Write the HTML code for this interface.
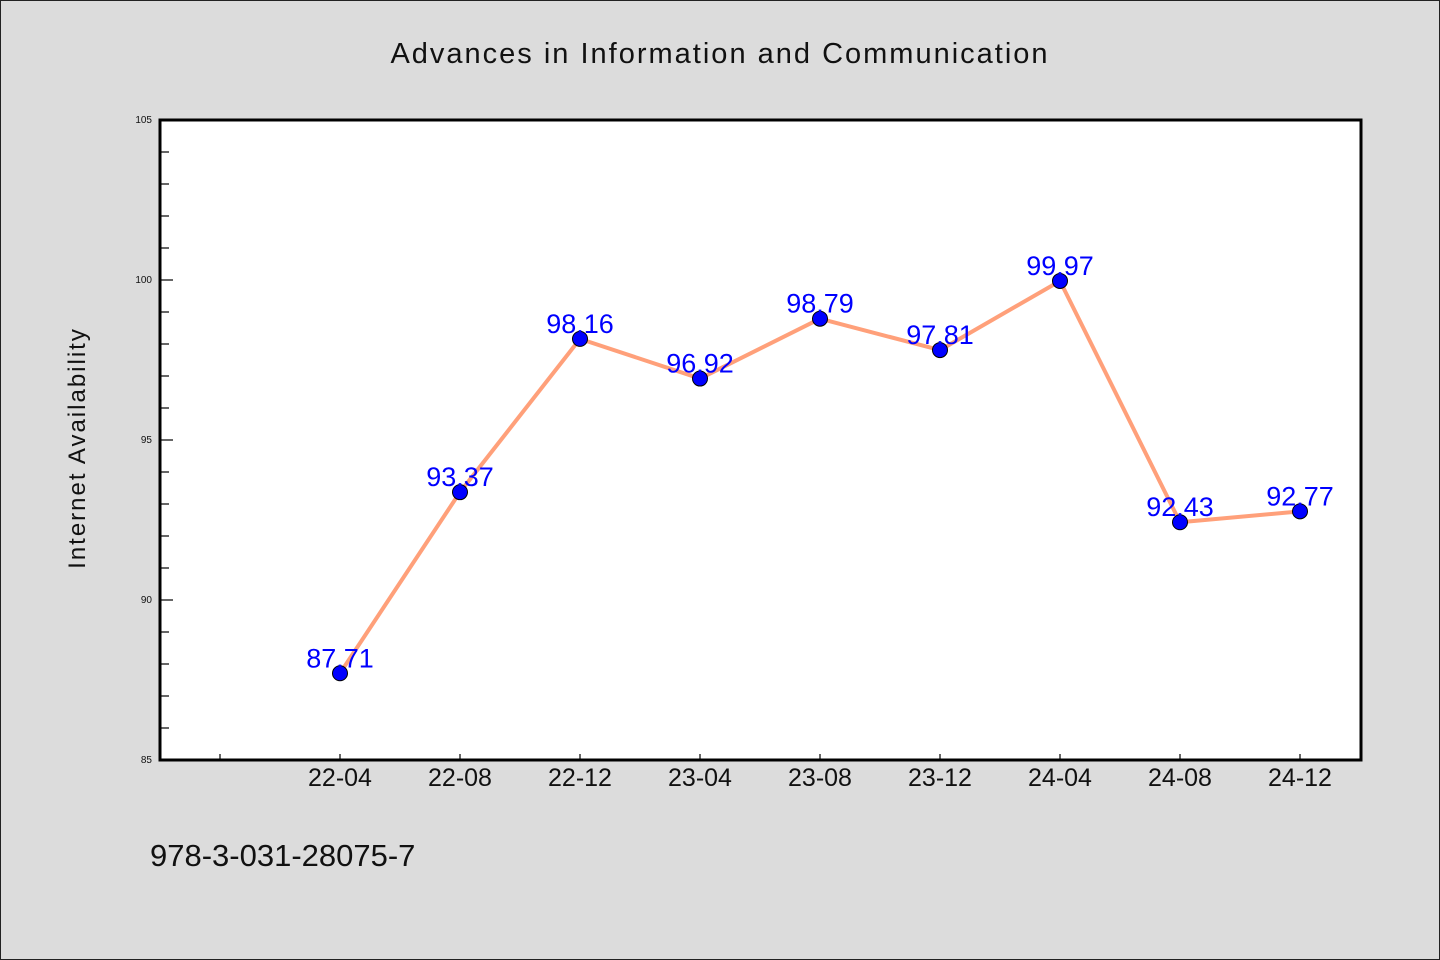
<!DOCTYPE html>
<html><head><meta charset="utf-8"><style>
html,body{margin:0;padding:0;}
body{width:1440px;height:960px;background:#dcdcdc;overflow:hidden;}
svg{display:block;}
text{font-family:"WenQuanYi Zen Hei","Liberation Sans",sans-serif;}
</style></head><body>
<svg id="chart" width="1440" height="960">
<rect x="0.5" y="0.5" width="1439" height="959" fill="#dcdcdc" stroke="#222"/>
<text x="720" y="63" text-anchor="middle" font-size="29" fill="#111" letter-spacing="2">Advances in Information and Communication</text>
<rect x="160" y="120" width="1201" height="640" fill="#fff"/>
<text transform="translate(85,448) rotate(-90)" text-anchor="middle" font-size="24" fill="#111" letter-spacing="2">Internet Availability</text>
<text x="150" y="866" font-size="31" fill="#111">978-3-031-28075-7</text>
<g id="axes"></g>
<g id="series"></g>
<rect x="160" y="120" width="1201" height="640" fill="none" stroke="#000" stroke-width="3"/>
</svg>
<script>
const categories=["22-04","22-08","22-12","23-04","23-08","23-12","24-04","24-08","24-12"];
const values=[87.71,93.37,98.16,96.92,98.79,97.81,99.97,92.43,92.77];
const yTicks=[85,90,95,100,105];
const NS="http://www.w3.org/2000/svg";
const L=160,R=1361,T=120,B=760,yMin=85,yMax=105;
const y=v=>B-(v-yMin)/(yMax-yMin)*(B-T);
const x=i=>340+i*120;
function mk(tag,at,parent){const e=document.createElementNS(NS,tag);for(const k in at)e.setAttribute(k,at[k]);parent.appendChild(e);return e;}
const ax=document.getElementById('axes'),sr=document.getElementById('series');
for(let v=yMin;v<=yMax;v++){
  const major=(v%5===0);
  const t=mk('line',{x1:L,x2:L+(major?13:9),y1:y(v),y2:y(v),stroke:'#000','stroke-width':1.2},ax);
  
  
}
yTicks.forEach(v=>{
  const t=mk('text',{x:L-8,y:y(v)+3,'text-anchor':'end','font-size':10,fill:'#111'},ax);
  t.textContent=v;
  
  
});
for(let i=-1;i<categories.length;i++){
  const t=mk('line',{x1:x(i),x2:x(i),y1:B,y2:B-6,stroke:'#000','stroke-width':1.2},ax);
  
  
}
categories.forEach((c,i)=>{
  const t=mk('text',{x:x(i),y:786,'text-anchor':'middle','font-size':25,fill:'#111'},ax);
  t.textContent=c;
  
  
});
const line=mk('polyline',{points:values.map((v,i)=>x(i)+','+y(v)).join(' '),fill:'none',stroke:'#ffa07a','stroke-width':4,'stroke-linejoin':'round'},sr);


values.forEach((v,i)=>{
  const c=mk('circle',{cx:x(i),cy:y(v),r:7.5,fill:'#0000ff',stroke:'#000','stroke-width':1},sr);
  
  
  const t=mk('text',{x:x(i),y:y(v)-6,'text-anchor':'middle','font-size':27,fill:'#0000ff'},sr);
  t.textContent=v.toFixed(2);
  
  
});
</script>
</body></html>
